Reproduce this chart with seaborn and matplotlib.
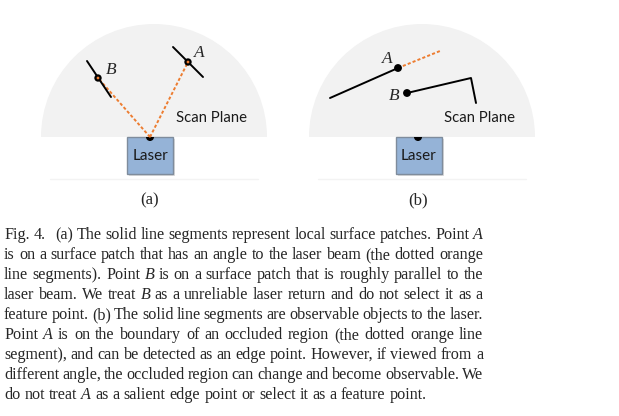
import matplotlib
matplotlib.use("Agg")
import matplotlib.pyplot as plt
import seaborn as sns
from matplotlib.patches import Wedge, Rectangle

# ---- picture geometry, in pixels of the 619x416 picture (y grows downward) ----
plane_cx = [154, 422]          # centre of each scan plane half disc
plane_base = 137
plane_r = 113

laser_left = [127, 396]
laser_w, laser_h = 46, 37
emitter_x = [150, 418]

# panel (a): surface patches, hit points and beams
a_patch_A_x = [173, 203]
a_patch_A_y = [47, 77]
a_patch_B_x = [87, 111]
a_patch_B_y = [61, 97]
a_points_x = [188, 98]
a_points_y = [62, 78]

# panel (b): observed objects, edge point and occluded ray
b_obj1_x = [330, 398]
b_obj1_y = [98, 68]
b_obj2_x = [407, 471, 476]
b_obj2_y = [93, 78, 103]
b_occl_x = [398, 440]
b_occl_y = [68, 51]
b_points_x = [398, 407]
b_points_y = [68, 93]

caption_lines = [
    "Fig. 4.  (a) The solid line segments represent local surface patches. Point A",
    "is on a surface patch that has an angle to the laser beam (the dotted orange",
    "line segments). Point B is on a surface patch that is roughly parallel to the",
    "laser beam. We treat B as a unreliable laser return and do not select it as a",
    "feature point. (b) The solid line segments are observable objects to the laser.",
    "Point A is on the boundary of an occluded region (the dotted orange line",
    "segment), and can be detected as an edge point. However, if viewed from a",
    "different angle, the occluded region can change and become observable. We",
    "do not treat A as a salient edge point or select it as a feature point.",
]

ORANGE = "#ed7d31"
BOX = "#95b3d7"
BOX_EDGE = "#7f8c9c"
PLANE = "#f2f2f2"

sns.set_theme(style="white")
plt.rcParams["font.family"] = ["Liberation Serif", "DejaVu Serif"]

fig = plt.figure(figsize=(6.19, 4.16), dpi=100)
ax = fig.add_axes([0, 0, 1, 1])
ax.set_xlim(0, 619)
ax.set_ylim(416, 0)
ax.axis("off")

dotted = (0, (1.6, 1.1))

for cx, lx, ex, tag in zip(plane_cx, laser_left, emitter_x, ["(a)", "(b)"]):
    ax.add_patch(Wedge((cx, plane_base), plane_r, 180, 360, facecolor=PLANE,
                       edgecolor="none", zorder=0))
    ax.plot([cx - 104, cx + 104], [179, 179], color="#f3f3f3", lw=1, zorder=0)
    ax.add_patch(Rectangle((lx + 2, plane_base + 2), laser_w, laser_h,
                           facecolor="#dcdcdc", edgecolor="none", zorder=1))
    ax.add_patch(Rectangle((lx, plane_base), laser_w, laser_h, facecolor=BOX,
                           edgecolor=BOX_EDGE, lw=1.0, zorder=2))
    ax.text(lx + laser_w / 2, plane_base + laser_h / 2 + 1, "Laser",
            family=["Lato", "DejaVu Sans"], fontsize=11, color="#1a1a1a",
            ha="center", va="center", zorder=3)
    ax.add_patch(Wedge((ex, plane_base), 4, 0, 180, facecolor="black",
                       edgecolor="none", zorder=3))
    ax.text(cx + 57, 118, "Scan Plane", family=["Lato", "DejaVu Sans"],
            fontsize=10.7, color="#1a1a1a", ha="center", va="center")
    ax.text(ex, 200, tag, fontsize=12, ha="center", va="center")

# panel (a)
for px, py in zip(a_points_x, a_points_y):
    sns.lineplot(x=[emitter_x[0], px], y=[plane_base, py], ax=ax, color=ORANGE,
                 lw=1.4, linestyle=dotted, sort=False, estimator=None, zorder=4)
sns.lineplot(x=a_patch_A_x, y=a_patch_A_y, ax=ax, color="black", lw=1.4,
             sort=False, estimator=None, zorder=4)
sns.lineplot(x=a_patch_B_x, y=a_patch_B_y, ax=ax, color="black", lw=1.4,
             sort=False, estimator=None, zorder=4)
sns.scatterplot(x=a_points_x, y=a_points_y, ax=ax, color="black", s=28,
                edgecolor="none", zorder=5)
sns.scatterplot(x=a_points_x + [emitter_x[0]], y=a_points_y + [plane_base - 1],
                ax=ax, color=ORANGE, s=4, edgecolor="none", zorder=6)
ax.text(199, 53, "A", fontsize=12.5, style="italic", ha="center", va="center")
ax.text(111, 70, "B", fontsize=12.5, style="italic", ha="center", va="center")

# panel (b)
sns.lineplot(x=b_obj1_x, y=b_obj1_y, ax=ax, color="black", lw=1.4,
             sort=False, estimator=None, zorder=4)
sns.lineplot(x=b_obj2_x, y=b_obj2_y, ax=ax, color="black", lw=1.4,
             sort=False, estimator=None, zorder=4)
sns.lineplot(x=b_occl_x, y=b_occl_y, ax=ax, color=ORANGE, lw=1.4,
             linestyle=dotted, sort=False, estimator=None, zorder=4)
sns.scatterplot(x=b_points_x, y=b_points_y, ax=ax, color="black", s=32,
                edgecolor="none", zorder=5)
ax.text(387, 59, "A", fontsize=12.5, style="italic", ha="center", va="center")
ax.text(394, 96, "B", fontsize=12.5, style="italic", ha="center", va="center")

# caption, justified word by word
cap_left, cap_right = 4, 483
cap_base, cap_step = 239, 20
cap_fs = 11.65
fig.canvas.draw()
renderer = fig.canvas.get_renderer()
space = 0.25 * cap_fs * 100 / 72
for i, line in enumerate(caption_lines):
    y = cap_base + i * cap_step
    words = line.split(" ")
    extra = [0.0] * len(words)
    # double space after the figure number
    tokens = []
    for w in words:
        if w == "":
            extra[len(tokens) - 1] += space * 1.5
            continue
        tokens.append(w)
    texts = []
    for w in tokens:
        t = ax.text(0, y, w, fontsize=cap_fs, va="baseline", ha="left",
                    style="italic" if w in ("A", "B") else "normal")
        texts.append(t)
    widths = [t.get_window_extent(renderer).width for t in texts]
    fixed = sum(extra[:len(tokens)])
    if i < len(caption_lines) - 1:
        gap = (cap_right - cap_left - sum(widths) - fixed) / (len(tokens) - 1)
    else:
        gap = space
    x = cap_left
    for k, (t, wd) in enumerate(zip(texts, widths)):
        t.set_x(x)
        x += wd + gap + extra[k]

fig.savefig("out.png", dpi=100)
